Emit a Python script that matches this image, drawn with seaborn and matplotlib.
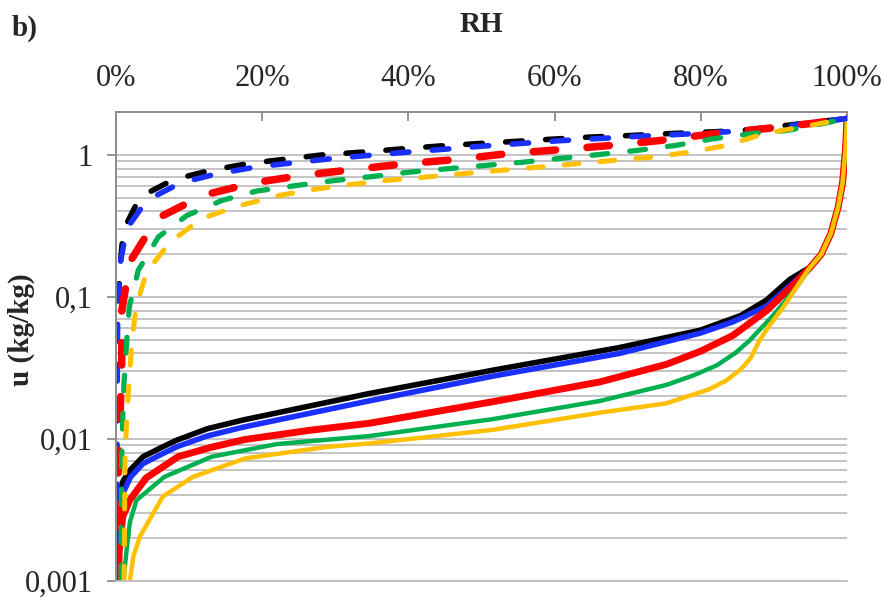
import matplotlib
matplotlib.use("Agg")
import matplotlib.pyplot as plt
import seaborn as sns
import pandas as pd
from matplotlib.ticker import FixedLocator, FixedFormatter, LogLocator, NullFormatter

# ---------------- data (RH as fraction, u in kg/kg) ----------------
tail_rh = [0.950, 0.965, 0.978, 0.988, 0.994, 0.998, 1.0]
tail_u = [0.162, 0.20, 0.28, 0.43, 0.64, 1.1, 1.8]

ads_black_rh = [0.007, 0.010, 0.020, 0.037, 0.060, 0.083, 0.125, 0.174, 0.347, 0.516, 0.689, 0.799, 0.855, 0.890, 0.922] + tail_rh
ads_black_u = [0.0046, 0.0051, 0.0061, 0.0075, 0.0086, 0.0098, 0.0118, 0.0136, 0.0209, 0.0305, 0.0440, 0.0582, 0.0740, 0.095, 0.133] + tail_u

ads_blue_rh = [0.001, 0.002, 0.005, 0.010, 0.020, 0.037, 0.060, 0.083, 0.125, 0.174, 0.347, 0.516, 0.689, 0.799, 0.844, 0.890, 0.926] + tail_rh
ads_blue_u = [0.001, 0.0017, 0.0029, 0.0042, 0.0054, 0.0067, 0.0077, 0.0088, 0.0105, 0.0121, 0.01855, 0.0277, 0.040, 0.0555, 0.0667, 0.0860, 0.125] + tail_u

ads_red_rh = [0.003, 0.0045, 0.0092, 0.019, 0.041, 0.085, 0.129, 0.176, 0.265, 0.347, 0.516, 0.662, 0.753, 0.800, 0.844, 0.890, 0.924] + tail_rh
ads_red_u = [0.001, 0.00166, 0.00284, 0.00372, 0.0053, 0.0075, 0.0087, 0.0099, 0.0115, 0.0129, 0.0183, 0.0252, 0.0335, 0.0415, 0.0535, 0.080, 0.118] + tail_u

ads_green_rh = [0.010, 0.0146, 0.019, 0.028, 0.066, 0.131, 0.22, 0.347, 0.516, 0.662, 0.753, 0.790, 0.822, 0.848, 0.867, 0.899, 0.930] + tail_rh
ads_green_u = [0.001, 0.00166, 0.0026, 0.0037, 0.0054, 0.0075, 0.0092, 0.01048, 0.0138, 0.0185, 0.0240, 0.0280, 0.0330, 0.0405, 0.0495, 0.074, 0.115] + tail_u

ads_gold_rh = [0.019, 0.0237, 0.0328, 0.064, 0.105, 0.177, 0.29, 0.347, 0.516, 0.662, 0.753, 0.776, 0.810, 0.835, 0.855, 0.868, 0.881, 0.895, 0.913, 0.945] + tail_rh
ads_gold_u = [0.001, 0.00149, 0.00206, 0.00393, 0.0054, 0.0073, 0.0088, 0.0093, 0.0116, 0.0153, 0.0178, 0.0195, 0.0222, 0.0258, 0.031, 0.037, 0.050, 0.064, 0.085, 0.150] + tail_u

des_black_rh = [0.003, 0.0055, 0.010, 0.0328, 0.078, 0.129, 0.179, 0.236, 0.284, 0.336, 0.386, 0.439, 0.491, 0.544, 0.596, 0.646, 0.703, 0.751, 0.803, 0.854, 1.0]
des_black_u = [0.0946, 0.159, 0.294, 0.504, 0.667, 0.776, 0.864, 0.937, 1.0, 1.043, 1.095, 1.149, 1.195, 1.24, 1.287, 1.33, 1.366, 1.405, 1.44, 1.48, 1.80]

des_blue_rh = [0.001, 0.0016, 0.0023, 0.0045, 0.0146, 0.042, 0.0876, 0.138, 0.190, 0.243, 0.293, 0.345, 0.398, 0.450, 0.500, 0.553, 0.605, 0.655, 0.710, 0.760, 0.813, 0.863, 0.912, 1.0]
des_blue_u = [0.001, 0.0188, 0.085, 0.159, 0.302, 0.477, 0.632, 0.735, 0.818, 0.879, 0.937, 0.989, 1.043, 1.095, 1.149, 1.20, 1.254, 1.296, 1.345, 1.382, 1.428, 1.48, 1.58, 1.80]

des_red_rh = [0.0027, 0.0031, 0.0055, 0.0078, 0.0080, 0.019, 0.0557, 0.119, 0.186, 0.254, 0.325, 0.395, 0.466, 0.534, 0.605, 0.676, 0.744, 0.817, 0.886, 0.954, 1.0]
des_red_u = [0.001, 0.00677, 0.0143, 0.0322, 0.0805, 0.176, 0.355, 0.518, 0.632, 0.715, 0.788, 0.864, 0.927, 1.016, 1.084, 1.162, 1.26, 1.405, 1.523, 1.667, 1.80]

des_green_rh = [0.007, 0.0078, 0.0092, 0.0109, 0.0146, 0.0182, 0.0305, 0.058, 0.097, 0.145, 0.192, 0.247, 0.300, 0.352, 0.402, 0.455, 0.505, 0.557, 0.610, 0.662, 0.712, 0.765, 0.817, 0.867, 0.917, 0.965, 1.0]
des_green_u = [0.001, 0.0071, 0.0136, 0.0246, 0.048, 0.085, 0.154, 0.264, 0.374, 0.477, 0.555, 0.608, 0.660, 0.704, 0.755, 0.798, 0.841, 0.887, 0.946, 1.005, 1.072, 1.162, 1.296, 1.405, 1.48, 1.65, 1.80]

des_gold_rh = [0.011, 0.0123, 0.0146, 0.0178, 0.0215, 0.0274, 0.042, 0.074, 0.117, 0.165, 0.224, 0.268, 0.318, 0.370, 0.423, 0.473, 0.525, 0.578, 0.630, 0.680, 0.733, 0.785, 0.835, 0.886, 0.936, 0.986, 1.0]
des_gold_u = [0.001, 0.0071, 0.0136, 0.0246, 0.047, 0.085, 0.150, 0.243, 0.355, 0.433, 0.518, 0.568, 0.615, 0.660, 0.696, 0.735, 0.776, 0.818, 0.864, 0.912, 0.962, 1.043, 1.162, 1.405, 1.563, 1.742, 1.80]

x_ticks = [0.0, 0.2, 0.4, 0.6, 0.8, 1.0]
x_tick_labels = ["0%", "20%", "40%", "60%", "80%", "100%"]
y_ticks = [0.001, 0.01, 0.1, 1.0]
y_tick_labels = ["0,001", "0,01", "0,1", "1"]

colors = {"black": "#000000", "blue": "#1a30ff", "red": "#ff0000",
          "green": "#00b050", "gold": "#ffc000"}

# ---------------- styling ----------------
sns.set_style("white")
plt.rcParams['font.family'] = ['Liberation Serif', 'DejaVu Serif']
plt.rcParams['lines.dash_capstyle'] = 'round'
plt.rcParams['lines.solid_capstyle'] = 'round'
plt.rcParams['lines.solid_joinstyle'] = 'round'
plt.rcParams['lines.dash_joinstyle'] = 'round'

fig = plt.figure(figsize=(8.85, 6), dpi=100)
ax = fig.add_axes([116 / 885, 1 - 581 / 600, (847 - 116) / 885, (581 - 112) / 600])

ads = [("black", ads_black_rh, ads_black_u, 4.0),
       ("blue", ads_blue_rh, ads_blue_u, 4.0),
       ("red", ads_red_rh, ads_red_u, 5.0),
       ("green", ads_green_rh, ads_green_u, 3.2),
       ("gold", ads_gold_rh, ads_gold_u, 3.2)]
des = [("black", des_black_rh, des_black_u, 4.0),
       ("blue", des_blue_rh, des_blue_u, 4.0),
       ("red", des_red_rh, des_red_u, 5.4),
       ("green", des_green_rh, des_green_u, 3.8),
       ("gold", des_gold_rh, des_gold_u, 3.6)]

for name, rh, u, lw in ads:
    df = pd.DataFrame({"RH": rh, "u": u})
    sns.lineplot(data=df, x="RH", y="u", ax=ax, color=colors[name], linewidth=lw,
                 sort=False, estimator=None, legend=False)

for name, rh, u, lw in des:
    df = pd.DataFrame({"RH": rh, "u": u})
    sns.lineplot(data=df, x="RH", y="u", ax=ax, color=colors[name], linewidth=lw,
                 sort=False, estimator=None, legend=False)
    ln = ax.lines[-1]
    ln.set_linestyle((0, (3.0, 4.2)))
    ln.set_dash_capstyle("round")

ax.set_yscale("log")
ax.set_xlim(0, 1)
ax.set_ylim(0.001, 2.0)

ax.xaxis.tick_top()
ax.xaxis.set_major_locator(FixedLocator(x_ticks))
ax.xaxis.set_major_formatter(FixedFormatter(x_tick_labels))
ax.yaxis.set_major_locator(FixedLocator(y_ticks))
ax.yaxis.set_major_formatter(FixedFormatter(y_tick_labels))
ax.yaxis.set_minor_locator(LogLocator(base=10, subs=[2, 3, 4, 5, 6, 7, 8, 9]))
ax.yaxis.set_minor_formatter(NullFormatter())

ax.tick_params(axis="x", which="major", direction="in", length=6.5, width=1.3,
               color="#8c8c8c", labelsize=22, pad=14, top=True, bottom=False,
               labeltop=True, labelbottom=False)
ax.tick_params(axis="y", which="major", direction="out", length=6.5, width=1.3,
               color="#8c8c8c", labelsize=22, pad=10, left=True)
ax.tick_params(axis="y", which="minor", length=0)

ax.grid(False)
ax.yaxis.grid(True, which="both", color="#bfbfbf", linewidth=1.3)
ax.set_axisbelow(True)

ax.spines["right"].set_visible(False)
ax.spines["top"].set_color("#8c8c8c")
ax.spines["left"].set_color("#8c8c8c")
ax.spines["top"].set_linewidth(1.4)
ax.spines["left"].set_linewidth(1.4)
ax.spines["bottom"].set_color("#bfbfbf")
ax.spines["bottom"].set_linewidth(1.3)

ax.set_xlabel("")
ax.set_ylabel("")

fig.text(481 / 885, 1 - 32 / 600, "RH", ha="center", va="baseline",
         fontsize=21, fontweight="bold")
fig.text(12 / 885, 1 - 36 / 600, "b)", ha="left", va="baseline",
         fontsize=21, fontweight="bold")
fig.text(21 / 885, 1 - 330 / 600, "u (kg/kg)", ha="center", va="center",
         rotation=90, fontsize=21, fontweight="bold")

fig.savefig("out.png", dpi=100)
